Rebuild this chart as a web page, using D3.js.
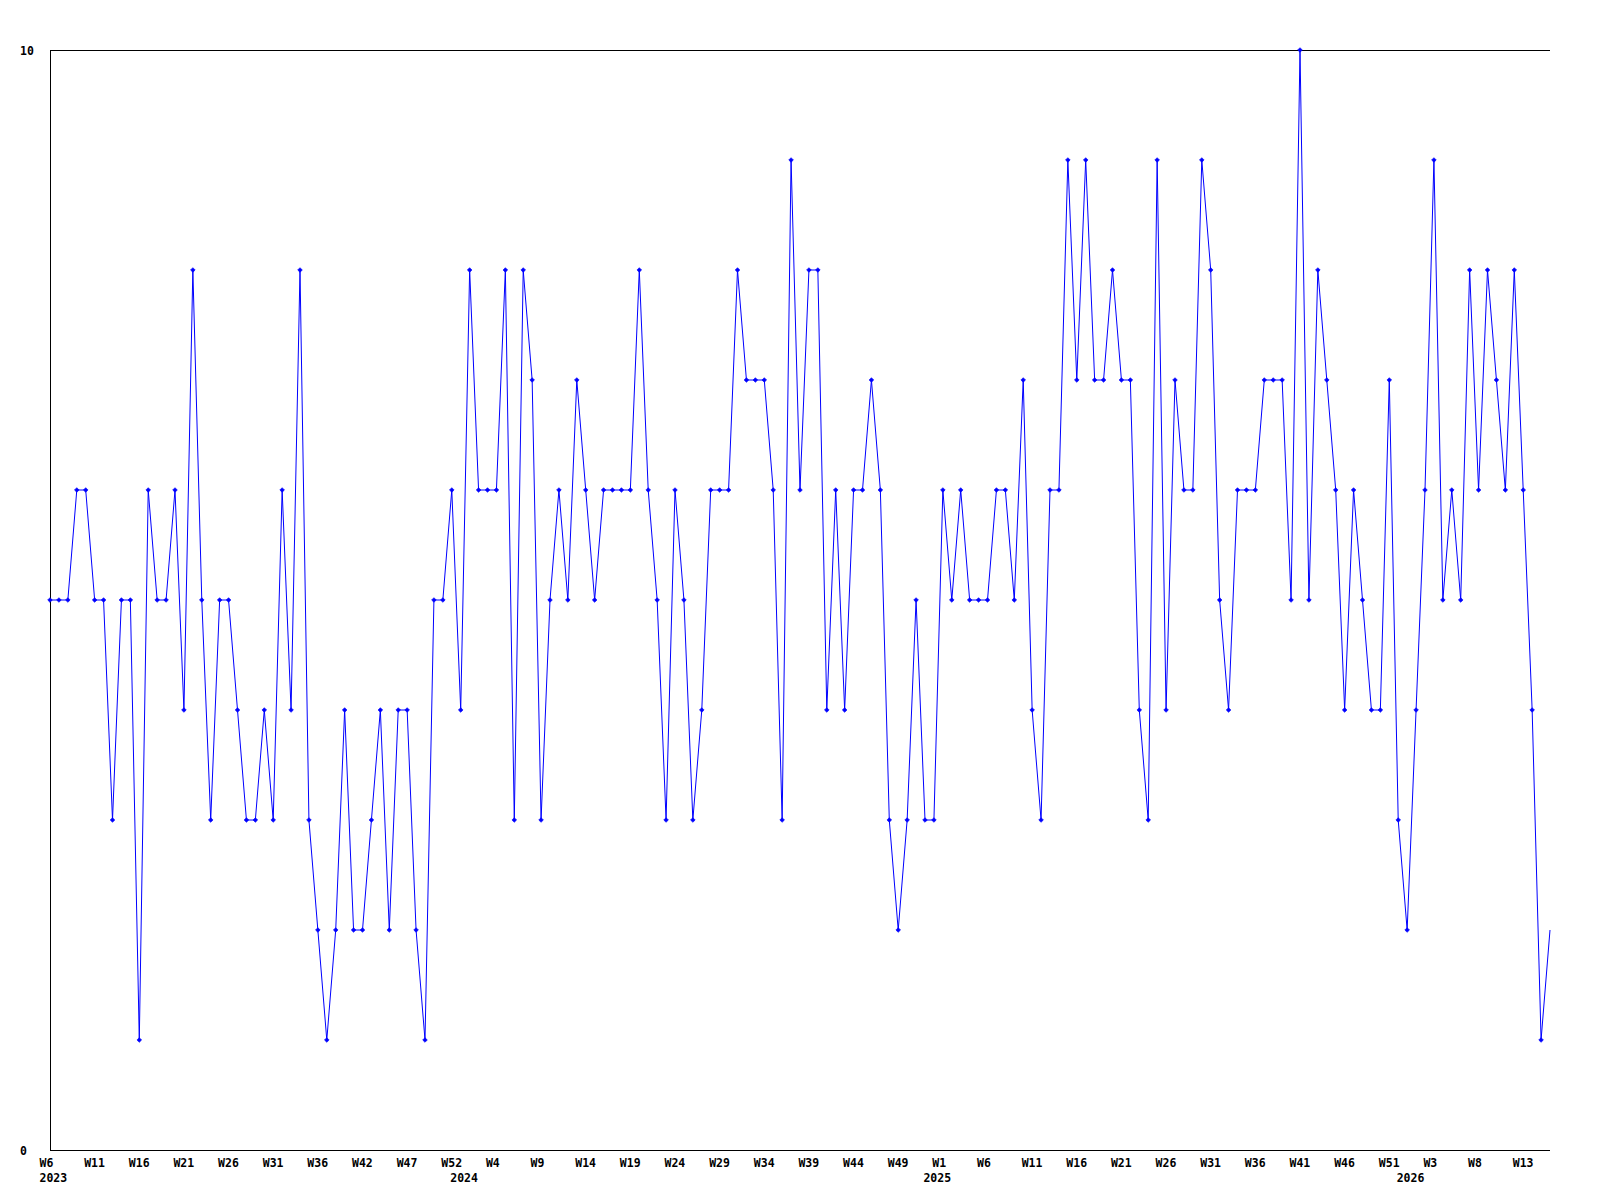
<!DOCTYPE html>
<html>
<head>
<meta charset="utf-8">
<script src="https://cdn.jsdelivr.net/npm/d3@7"></script>
<style>
  html, body { margin: 0; padding: 0; background: #fff; }
  svg { display: block; }
  text { font-family: "DejaVu Sans Mono", monospace; font-weight: bold; font-size: 11.5px; fill: #000; }
</style>
</head>
<body>
<div id="chart"></div>
<script>
// ---- data ----
const values = [
  5,5,5,6,6,5,5,3,5,5,1,6,5,5,6,4,8,5,3,5,5,4,
  3,3,4,3,6,4,8,3,2,1,2,4,2,2,3,4,2,4,4,2,1,
  5,5,6,4,8,6,6,6,8,3,8,7,3,5,6,5,7,6,5,6,6,
  6,6,8,6,5,3,6,5,3,4,6,6,6,8,7,7,7,6,3,9,6,8,
  8,4,6,4,6,6,7,6,3,2,3,5,3,3,6,5,6,5,5,5,6,
  6,5,7,4,3,6,6,9,7,9,7,7,8,7,7,4,3,9,4,7,6,
  6,9,8,5,4,6,6,6,7,7,7,5,10,5,8,7,6,4,6,5,4,4,
  7,3,2,4,6,9,5,6,5,8,6,8,7,6,8,6,4,1,2
];
const weekTickLabels = ["W6","W11","W16","W21","W26","W31","W36","W42","W47","W52",
  "W4","W9","W14","W19","W24","W29","W34","W39","W44","W49",
  "W1","W6","W11","W16","W21","W26","W31","W36","W41","W46",
  "W51","W3","W8","W13"];
const weekTickStep = 5;
const yearLabels = ["2023","2024","2025","2026"];
const yearStartIndex = [0,46,99,152];
const yTickValues = [0,10];

// ---- layout ----
const chartW = 1600, chartH = 1200;
const mLeft = 50, mRight = 1550, mTop = 50, mBottom = 1150;
const FONT = "'DejaVu Sans Mono', monospace";

const svg = d3.select("#chart").append("svg").attr("width", chartW).attr("height", chartH);

const x = d3.scaleLinear().domain([0, values.length - 1]).range([mLeft, mRight]);
const y = d3.scaleLinear().domain([0, 10]).range([mBottom, mTop]);

// frame: left, bottom, top lines
const frame = svg.append("g").attr("stroke", "#000").attr("stroke-width", 1).attr("shape-rendering", "crispEdges");
frame.append("line").attr("x1", mLeft).attr("x2", mLeft).attr("y1", mTop).attr("y2", mBottom);
frame.append("line").attr("x1", mLeft).attr("x2", mRight).attr("y1", mBottom).attr("y2", mBottom);
frame.append("line").attr("x1", mLeft).attr("x2", mRight).attr("y1", mTop).attr("y2", mTop);

function styleText(sel) {
  sel.style("font-family", FONT).style("font-weight", "bold").style("font-size", "11.5px").attr("fill", "#000");
}

// y labels
const yAxis = d3.axisLeft(y).tickValues(yTickValues).tickSize(0).tickFormat(d3.format("d"));
const gy = svg.append("g").attr("transform", `translate(${mLeft},0)`).call(yAxis);
gy.select(".domain").remove();
gy.selectAll("text").attr("text-anchor", "start").attr("x", 20 - mLeft).attr("dy", "0.35em").call(styleText);

// week tick labels
const weekIdx = weekTickLabels.map((_, i) => i * weekTickStep);
const xAxis = d3.axisBottom(x).tickValues(weekIdx).tickSize(0)
  .tickFormat((d, i) => weekTickLabels[i]);
const gx = svg.append("g").attr("transform", `translate(0,${mBottom})`).call(xAxis);
gx.select(".domain").remove();
gx.selectAll("text").attr("text-anchor", "start").attr("x", -11).attr("y", 17).attr("dy", null).call(styleText);

// year labels
const yearAxis = d3.axisBottom(x).tickValues(yearStartIndex).tickSize(0)
  .tickFormat((d, i) => yearLabels[i]);
const gyr = svg.append("g").attr("transform", `translate(0,${mBottom})`).call(yearAxis);
gyr.select(".domain").remove();
gyr.selectAll("text").attr("text-anchor", "start").attr("x", -11).attr("y", 32).attr("dy", null).call(styleText);

// line
const line = d3.line().x((d, i) => x(i)).y(d => y(d));
svg.append("path").datum(values)
  .attr("fill", "none").attr("stroke", "#0000ff").attr("stroke-width", 1)
  .attr("d", line);

// markers
const diamond = d3.symbol().type(d3.symbolDiamond2).size(14);
svg.append("g").selectAll("path").data(values.slice(0, values.length - 1)).join("path")
  .attr("transform", (d, i) => `translate(${x(i)},${y(d)})`)
  .attr("d", diamond)
  .attr("fill", "#0000ff").attr("stroke", "#0000ff").attr("stroke-width", 0.6);
</script>
</body>
</html>
